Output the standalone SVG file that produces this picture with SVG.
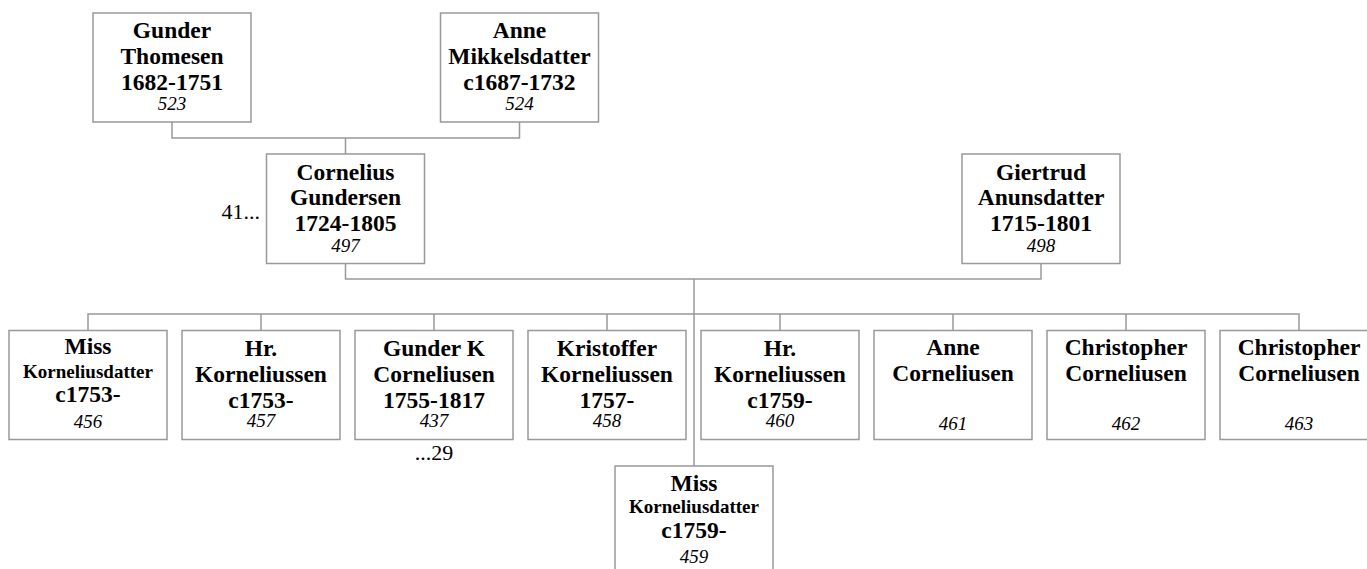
<svg xmlns="http://www.w3.org/2000/svg" width="1367" height="569" viewBox="0 0 1367 569">
<style>
.b{fill:#fff;stroke:#999;stroke-width:1.5}
.c{fill:none;stroke:#999;stroke-width:1.5}
text{font-family:"Liberation Serif","Times New Roman",serif;text-anchor:middle;fill:#000}
.n{font-size:23.5px;font-weight:bold}
.s{font-size:19px;font-weight:bold}
.i{font-size:19px;font-style:italic}
.l{font-size:22px}
</style>
<rect width="1367" height="569" fill="#fff"/>
<g id="connectors" class="c">
<path d="M172 122V138H519.5V122M345.5 138V154"/>
<path d="M345.5 263.5V279H1041V263.5M694 279V466"/>
<path d="M88 330.5V314H1299V330.5M261 314V330.5M434 314V330.5M607 314V330.5M780 314V330.5M953 314V330.5M1126 314V330.5"/>
</g>
<g id="n523"><rect class="b" x="93" y="13" width="158" height="109"/>
<text class="n" x="172" y="37.5">Gunder</text><text class="n" x="172" y="63.5">Thomesen</text><text class="n" x="172" y="90">1682-1751</text><text class="i" x="172" y="109.5">523</text></g>
<g id="n524"><rect class="b" x="440.5" y="13" width="158" height="109"/>
<text class="n" x="519.5" y="37.5">Anne</text><text class="n" x="519.5" y="63.5">Mikkelsdatter</text><text class="n" x="519.5" y="90">c1687-1732</text><text class="i" x="519.5" y="109.5">524</text></g>
<g id="n497"><rect class="b" x="266.5" y="154" width="158" height="109.5"/>
<text class="n" x="345.5" y="179.5">Cornelius</text><text class="n" x="345.5" y="205">Gundersen</text><text class="n" x="345.5" y="231">1724-1805</text><text class="i" x="345.5" y="251.5">497</text></g>
<text id="l41" class="l" x="260" y="218.5" style="text-anchor:end">41...</text>
<g id="n498"><rect class="b" x="962" y="154" width="158" height="109.5"/>
<text class="n" x="1041" y="179.5">Giertrud</text><text class="n" x="1041" y="205">Anunsdatter</text><text class="n" x="1041" y="231">1715-1801</text><text class="i" x="1041" y="251.5">498</text></g>
<g id="n456"><rect class="b" x="9" y="330.5" width="158" height="109"/>
<text class="n" x="88" y="353.5">Miss</text><text class="s" x="88" y="377.5">Korneliusdatter</text><text class="n" x="88" y="402">c1753-</text><text class="i" x="88" y="428">456</text></g>
<g id="n457"><rect class="b" x="182" y="330.5" width="158" height="109"/>
<text class="n" x="261" y="355.5">Hr.</text><text class="n" x="261" y="381.5">Korneliussen</text><text class="n" x="261" y="407.5">c1753-</text><text class="i" x="261" y="427">457</text></g>
<g id="n437"><rect class="b" x="355" y="330.5" width="158" height="109"/>
<text class="n" x="434" y="355.5">Gunder K</text><text class="n" x="434" y="381.5">Corneliusen</text><text class="n" x="434" y="407.5">1755-1817</text><text class="i" x="434" y="427">437</text></g>
<text id="l29" class="l" x="434" y="460">...29</text>
<g id="n458"><rect class="b" x="528" y="330.5" width="158" height="109"/>
<text class="n" x="607" y="355.5">Kristoffer</text><text class="n" x="607" y="381.5">Korneliussen</text><text class="n" x="607" y="407.5">1757-</text><text class="i" x="607" y="427">458</text></g>
<g id="n460"><rect class="b" x="701" y="330.5" width="158" height="109"/>
<text class="n" x="780" y="355.5">Hr.</text><text class="n" x="780" y="381.5">Korneliussen</text><text class="n" x="780" y="407.5">c1759-</text><text class="i" x="780" y="427">460</text></g>
<g id="n461"><rect class="b" x="874" y="330.5" width="158" height="109"/>
<text class="n" x="953" y="354.5">Anne</text><text class="n" x="953" y="381">Corneliusen</text><text class="i" x="953" y="430">461</text></g>
<g id="n462"><rect class="b" x="1047" y="330.5" width="158" height="109"/>
<text class="n" x="1126" y="354.5">Christopher</text><text class="n" x="1126" y="381">Corneliusen</text><text class="i" x="1126" y="430">462</text></g>
<g id="n463"><rect class="b" x="1220" y="330.5" width="158" height="109"/>
<text class="n" x="1299" y="354.5">Christopher</text><text class="n" x="1299" y="381">Corneliusen</text><text class="i" x="1299" y="430">463</text></g>
<g id="n459"><rect class="b" x="615" y="466" width="158" height="109"/>
<text class="n" x="694" y="491">Miss</text><text class="s" x="694" y="513">Korneliusdatter</text><text class="n" x="694" y="538">c1759-</text><text class="i" x="694" y="563">459</text></g>
</svg>
